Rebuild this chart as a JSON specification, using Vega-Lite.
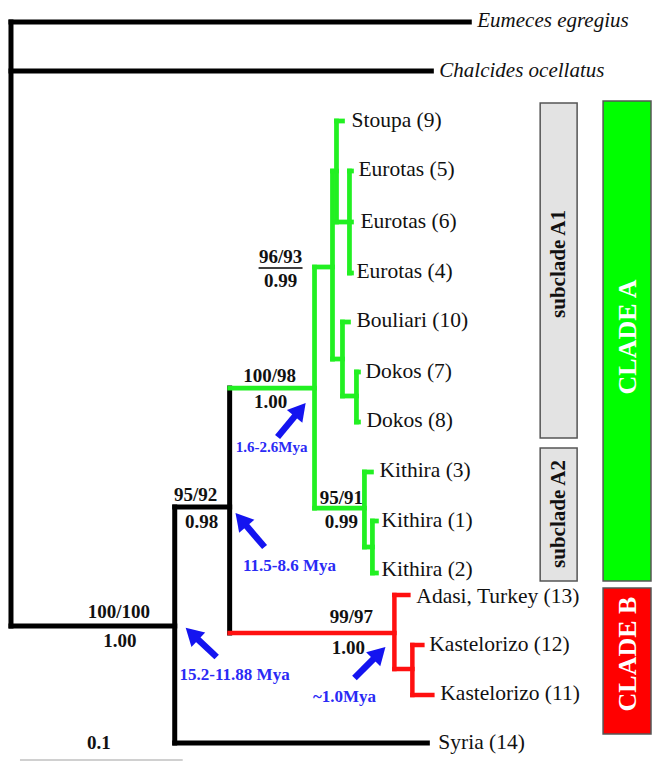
{
  "$schema": "https://vega.github.io/schema/vega-lite/v6.json",
  "width": 652,
  "height": 762,
  "autosize": {"type": "fit", "contains": "padding"},
  "padding": 0,
  "background": "white",
  "config": {"view": {"stroke": null}},
  "datasets": {
    "boxes": [
      {"x": 541, "x2": 578, "y": 103, "y2": 438, "box": "sub"},
      {"x": 541, "x2": 578, "y": 448, "y2": 581, "box": "sub"},
      {"x": 604, "x2": 652, "y": 101, "y2": 581, "box": "A"},
      {"x": 604, "x2": 652, "y": 588, "y2": 734, "box": "B"}
    ],
    "segs": [
      {"x": 11, "x2": 11, "y": 22, "y2": 626, "c": "k"},
      {"x": 11, "x2": 470, "y": 22, "y2": 22, "c": "k"},
      {"x": 11, "x2": 432, "y": 71, "y2": 71, "c": "k"},
      {"x": 11, "x2": 175, "y": 626, "y2": 626, "c": "k"},
      {"x": 175, "x2": 175, "y": 507, "y2": 743, "c": "k"},
      {"x": 175, "x2": 428, "y": 743, "y2": 743, "c": "k"},
      {"x": 175, "x2": 230, "y": 507, "y2": 507, "c": "k"},
      {"x": 230, "x2": 230, "y": 388, "y2": 633, "c": "k"},
      {"x": 230, "x2": 315, "y": 388, "y2": 388, "c": "g"},
      {"x": 315, "x2": 315, "y": 267, "y2": 508, "c": "g"},
      {"x": 315, "x2": 333, "y": 267, "y2": 267, "c": "g"},
      {"x": 333, "x2": 333, "y": 171, "y2": 359, "c": "g"},
      {"x": 333, "x2": 337, "y": 171, "y2": 171, "c": "g"},
      {"x": 337, "x2": 337, "y": 121, "y2": 222, "c": "g"},
      {"x": 337, "x2": 343, "y": 121, "y2": 121, "c": "g"},
      {"x": 337, "x2": 352, "y": 222, "y2": 222, "c": "g"},
      {"x": 350, "x2": 350, "y": 171, "y2": 273, "c": "g"},
      {"x": 350, "x2": 352, "y": 171, "y2": 171, "c": "g"},
      {"x": 350, "x2": 352, "y": 273, "y2": 273, "c": "g"},
      {"x": 333, "x2": 343, "y": 359, "y2": 359, "c": "g"},
      {"x": 343, "x2": 343, "y": 322, "y2": 396, "c": "g"},
      {"x": 343, "x2": 349, "y": 322, "y2": 322, "c": "g"},
      {"x": 343, "x2": 357, "y": 396, "y2": 396, "c": "g"},
      {"x": 357, "x2": 357, "y": 372, "y2": 422, "c": "g"},
      {"x": 357, "x2": 359, "y": 372, "y2": 372, "c": "g"},
      {"x": 357, "x2": 359, "y": 422, "y2": 422, "c": "g"},
      {"x": 315, "x2": 365, "y": 508, "y2": 508, "c": "g"},
      {"x": 365, "x2": 365, "y": 472, "y2": 547, "c": "g"},
      {"x": 365, "x2": 372, "y": 472, "y2": 472, "c": "g"},
      {"x": 365, "x2": 373, "y": 547, "y2": 547, "c": "g"},
      {"x": 373, "x2": 373, "y": 521, "y2": 573, "c": "g"},
      {"x": 373, "x2": 377, "y": 521, "y2": 521, "c": "g"},
      {"x": 373, "x2": 377, "y": 573, "y2": 573, "c": "g"},
      {"x": 230, "x2": 395, "y": 633, "y2": 633, "c": "r"},
      {"x": 395, "x2": 395, "y": 595, "y2": 669, "c": "r"},
      {"x": 395, "x2": 409, "y": 595, "y2": 595, "c": "r"},
      {"x": 395, "x2": 413, "y": 669, "y2": 669, "c": "r"},
      {"x": 413, "x2": 413, "y": 645, "y2": 695, "c": "r"},
      {"x": 413, "x2": 423, "y": 645, "y2": 645, "c": "r"},
      {"x": 413, "x2": 433, "y": 695, "y2": 695, "c": "r"}
    ],
    "tips": [
      {"label": "Stoupa (9)", "x": 352, "y": 121},
      {"label": "Eurotas (5)", "x": 359, "y": 170},
      {"label": "Eurotas (6)", "x": 361, "y": 222},
      {"label": "Eurotas (4)", "x": 357, "y": 272},
      {"label": "Bouliari (10)", "x": 357, "y": 321},
      {"label": "Dokos (7)", "x": 366, "y": 372},
      {"label": "Dokos (8)", "x": 367, "y": 421},
      {"label": "Kithira (3)", "x": 380, "y": 471},
      {"label": "Kithira (1)", "x": 382, "y": 521},
      {"label": "Kithira (2)", "x": 382, "y": 570},
      {"label": "Adasi, Turkey (13)", "x": 417, "y": 597},
      {"label": "Kastelorizo (12)", "x": 430, "y": 645},
      {"label": "Kastelorizo (11)", "x": 441, "y": 694},
      {"label": "Syria (14)", "x": 439, "y": 743}
    ],
    "outgroups": [
      {"label": "Eumeces egregius", "x": 478, "y": 21},
      {"label": "Chalcides ocellatus", "x": 440, "y": 71}
    ],
    "support": [
      {"label": "96/93", "x": 281, "y": 257},
      {"label": "0.99", "x": 281, "y": 281},
      {"label": "100/98", "x": 270, "y": 376},
      {"label": "1.00", "x": 271, "y": 402},
      {"label": "95/92", "x": 196, "y": 495},
      {"label": "0.98", "x": 202, "y": 522},
      {"label": "95/91", "x": 342, "y": 498},
      {"label": "0.99", "x": 342, "y": 522},
      {"label": "100/100", "x": 119, "y": 612},
      {"label": "1.00", "x": 120, "y": 641},
      {"label": "99/97", "x": 352, "y": 617},
      {"label": "1.00", "x": 349, "y": 648},
      {"label": "0.1", "x": 99, "y": 743}
    ],
    "dates": [
      {"label": "11.5-8.6 Mya", "x": 290, "y": 566},
      {"label": "15.2-11.88 Mya", "x": 235, "y": 675},
      {"label": "~1.0Mya", "x": 345, "y": 697}
    ],
    "datesSmall": [
      {"label": "1.6-2.6Mya", "x": 272, "y": 447}
    ],
    "arrows": [
      {"x": 278, "y": 437, "x2": 300.6, "y2": 409.7, "angle": 39.6},
      {"x": 265, "y": 547, "x2": 241.5, "y2": 519.6, "angle": 319.4},
      {"x": 217, "y": 657, "x2": 192.3, "y2": 633.8, "angle": 313.2},
      {"x": 355, "y": 678, "x2": 379.9, "y2": 653.1, "angle": 45}
    ],
    "underline": [
      {"x": 259, "x2": 303, "y": 268, "y2": 268}
    ],
    "scalebar": [
      {"x": 20, "x2": 183, "y": 760, "y2": 760}
    ],
    "subclades": [
      {"label": "subclade A1", "x": 560, "y": 264},
      {"label": "subclade A2", "x": 560, "y": 514}
    ],
    "clades": [
      {"label": "CLADE A", "x": 629, "y": 337},
      {"label": "CLADE B", "x": 629, "y": 654}
    ]
  },
  "layer": [
    {
      "data": {"name": "boxes"},
      "mark": {"type": "rect", "stroke": "#555555", "strokeWidth": 1.5},
      "encoding": {
        "x": {"field": "x", "type": "quantitative", "scale": {"domain": [0, 652], "nice": false, "zero": false}, "axis": null},
        "x2": {"field": "x2"},
        "y": {"field": "y", "type": "quantitative", "scale": {"domain": [0, 762], "nice": false, "zero": false, "reverse": true}, "axis": null},
        "y2": {"field": "y2"},
        "fill": {"field": "box", "type": "nominal", "scale": {"domain": ["sub", "A", "B"], "range": ["#e3e3e3", "#00ff00", "#ff0000"]}, "legend": null}
      }
    },
    {
      "data": {"name": "scalebar"},
      "mark": {"type": "rule", "stroke": "#d0d0d0", "strokeWidth": 2},
      "encoding": {
        "x": {"field": "x", "type": "quantitative", "scale": {"domain": [0, 652], "nice": false, "zero": false}, "axis": null},
        "x2": {"field": "x2"},
        "y": {"field": "y", "type": "quantitative", "scale": {"domain": [0, 762], "nice": false, "zero": false, "reverse": true}, "axis": null},
        "y2": {"field": "y2"}
      }
    },
    {
      "data": {"name": "segs"},
      "mark": {"type": "rule", "strokeCap": "square"},
      "encoding": {
        "x": {"field": "x", "type": "quantitative", "scale": {"domain": [0, 652], "nice": false, "zero": false}, "axis": null},
        "x2": {"field": "x2"},
        "y": {"field": "y", "type": "quantitative", "scale": {"domain": [0, 762], "nice": false, "zero": false, "reverse": true}, "axis": null},
        "y2": {"field": "y2"},
        "stroke": {"field": "c", "type": "nominal", "scale": {"domain": ["k", "g", "r"], "range": ["#000000", "#22f022", "#ff1010"]}, "legend": null},
        "strokeWidth": {"field": "c", "type": "nominal", "scale": {"domain": ["k", "g", "r"], "range": [5, 4.5, 4.5]}, "legend": null}
      }
    },
    {
      "data": {"name": "underline"},
      "mark": {"type": "rule", "stroke": "#000000", "strokeWidth": 1.5},
      "encoding": {
        "x": {"field": "x", "type": "quantitative", "scale": {"domain": [0, 652], "nice": false, "zero": false}, "axis": null},
        "x2": {"field": "x2"},
        "y": {"field": "y", "type": "quantitative", "scale": {"domain": [0, 762], "nice": false, "zero": false, "reverse": true}, "axis": null},
        "y2": {"field": "y2"}
      }
    },
    {
      "data": {"name": "arrows"},
      "mark": {"type": "rule", "stroke": "#1414f0", "strokeWidth": 6.5},
      "encoding": {
        "x": {"field": "x", "type": "quantitative", "scale": {"domain": [0, 652], "nice": false, "zero": false}, "axis": null},
        "x2": {"field": "x2"},
        "y": {"field": "y", "type": "quantitative", "scale": {"domain": [0, 762], "nice": false, "zero": false, "reverse": true}, "axis": null},
        "y2": {"field": "y2"}
      }
    },
    {
      "data": {"name": "arrows"},
      "mark": {"type": "point", "shape": "triangle-up", "filled": true, "color": "#1414f0", "opacity": 1, "size": 400},
      "encoding": {
        "x": {"field": "x2", "type": "quantitative", "scale": {"domain": [0, 652], "nice": false, "zero": false}, "axis": null},
        "y": {"field": "y2", "type": "quantitative", "scale": {"domain": [0, 762], "nice": false, "zero": false, "reverse": true}, "axis": null},
        "angle": {"field": "angle", "type": "quantitative", "scale": null}
      }
    },
    {
      "data": {"name": "tips"},
      "mark": {"type": "text", "font": "Liberation Serif", "fontSize": 21.5, "align": "left", "baseline": "middle", "color": "#111111"},
      "encoding": {
        "x": {"field": "x", "type": "quantitative", "scale": {"domain": [0, 652], "nice": false, "zero": false}, "axis": null},
        "y": {"field": "y", "type": "quantitative", "scale": {"domain": [0, 762], "nice": false, "zero": false, "reverse": true}, "axis": null},
        "text": {"field": "label"}
      }
    },
    {
      "data": {"name": "outgroups"},
      "mark": {"type": "text", "font": "Liberation Serif", "fontSize": 21, "fontStyle": "italic", "align": "left", "baseline": "middle", "color": "#111111"},
      "encoding": {
        "x": {"field": "x", "type": "quantitative", "scale": {"domain": [0, 652], "nice": false, "zero": false}, "axis": null},
        "y": {"field": "y", "type": "quantitative", "scale": {"domain": [0, 762], "nice": false, "zero": false, "reverse": true}, "axis": null},
        "text": {"field": "label"}
      }
    },
    {
      "data": {"name": "support"},
      "mark": {"type": "text", "font": "Liberation Serif", "fontSize": 19, "fontWeight": "bold", "align": "center", "baseline": "middle", "color": "#111111"},
      "encoding": {
        "x": {"field": "x", "type": "quantitative", "scale": {"domain": [0, 652], "nice": false, "zero": false}, "axis": null},
        "y": {"field": "y", "type": "quantitative", "scale": {"domain": [0, 762], "nice": false, "zero": false, "reverse": true}, "axis": null},
        "text": {"field": "label"}
      }
    },
    {
      "data": {"name": "dates"},
      "mark": {"type": "text", "font": "Liberation Serif", "fontSize": 17, "fontWeight": "bold", "align": "center", "baseline": "middle", "color": "#2a2af5"},
      "encoding": {
        "x": {"field": "x", "type": "quantitative", "scale": {"domain": [0, 652], "nice": false, "zero": false}, "axis": null},
        "y": {"field": "y", "type": "quantitative", "scale": {"domain": [0, 762], "nice": false, "zero": false, "reverse": true}, "axis": null},
        "text": {"field": "label"}
      }
    },
    {
      "data": {"name": "datesSmall"},
      "mark": {"type": "text", "font": "Liberation Serif", "fontSize": 15, "fontWeight": "bold", "align": "center", "baseline": "middle", "color": "#2a2af5"},
      "encoding": {
        "x": {"field": "x", "type": "quantitative", "scale": {"domain": [0, 652], "nice": false, "zero": false}, "axis": null},
        "y": {"field": "y", "type": "quantitative", "scale": {"domain": [0, 762], "nice": false, "zero": false, "reverse": true}, "axis": null},
        "text": {"field": "label"}
      }
    },
    {
      "data": {"name": "subclades"},
      "mark": {"type": "text", "font": "Liberation Serif", "fontSize": 21, "fontWeight": "bold", "angle": 270, "align": "center", "baseline": "middle", "color": "#111111"},
      "encoding": {
        "x": {"field": "x", "type": "quantitative", "scale": {"domain": [0, 652], "nice": false, "zero": false}, "axis": null},
        "y": {"field": "y", "type": "quantitative", "scale": {"domain": [0, 762], "nice": false, "zero": false, "reverse": true}, "axis": null},
        "text": {"field": "label"}
      }
    },
    {
      "data": {"name": "clades"},
      "mark": {"type": "text", "font": "Liberation Serif", "fontSize": 26, "fontWeight": "bold", "angle": 270, "align": "center", "baseline": "middle", "color": "#ffffff"},
      "encoding": {
        "x": {"field": "x", "type": "quantitative", "scale": {"domain": [0, 652], "nice": false, "zero": false}, "axis": null},
        "y": {"field": "y", "type": "quantitative", "scale": {"domain": [0, 762], "nice": false, "zero": false, "reverse": true}, "axis": null},
        "text": {"field": "label"}
      }
    }
  ]
}
